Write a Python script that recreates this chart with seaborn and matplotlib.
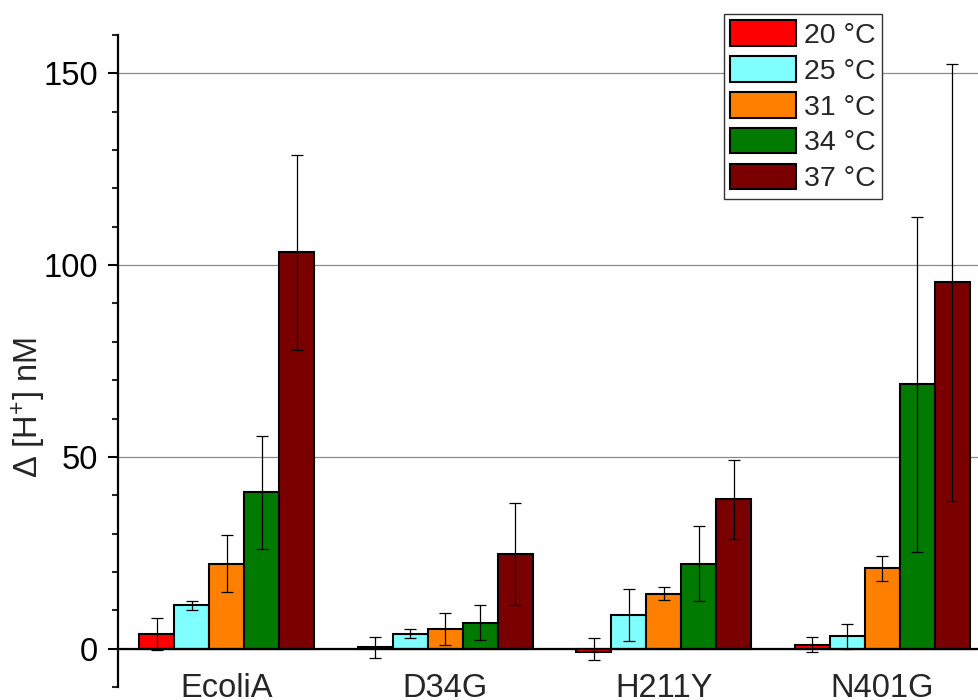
import matplotlib
matplotlib.use("Agg")
import matplotlib.pyplot as plt
import matplotlib.ticker as mticker
import numpy as np
import pandas as pd
import seaborn as sns

# Proton release per enzyme variant at each temperature (mean and error)
groups = ["EcoliA", "D34G", "H211Y", "N401G"]
temps = ["20 °C", "25 °C", "31 °C", "34 °C", "37 °C"]

t20 = [3.8, 0.3, -0.9, 1.0]
t25 = [11.3, 3.9, 8.8, 3.2]
t31 = [22.2, 5.1, 14.3, 20.9]
t34 = [40.8, 6.8, 22.2, 68.9]
t37 = [103.3, 24.7, 39.0, 95.5]

e20 = [4.1, 2.8, 2.9, 2.0]
e25 = [1.2, 1.25, 6.7, 3.2]
e31 = [7.5, 4.2, 1.65, 3.15]
e34 = [14.7, 4.65, 9.9, 43.6]
e37 = [25.5, 13.3, 10.3, 57.0]

colors = ["#FF0000", "#80FFFF", "#FF8000", "#007A00", "#7A0000"]

means = [t20, t25, t31, t34, t37]
errs = [e20, e25, e31, e34, e37]

rows = []
for temp, vals, evals in zip(temps, means, errs):
    for g, v, e in zip(groups, vals, evals):
        rows.append({"group": g, "temp": temp, "value": v, "err": e})
df = pd.DataFrame(rows)

sns.set_style("ticks")
plt.rcParams["font.family"] = ["Liberation Sans", "DejaVu Sans"]
plt.rcParams["mathtext.fontset"] = "custom"
plt.rcParams["mathtext.rm"] = "Liberation Sans"
plt.rcParams["mathtext.it"] = "Liberation Sans:italic"

fig = plt.figure(figsize=(9.79, 7.0), dpi=100)
ax = fig.add_axes([117.5 / 979, 1 - 687 / 700, 874 / 979, 652 / 700])

sns.barplot(
    data=df, x="group", y="value", hue="temp",
    order=groups, hue_order=temps, palette=colors,
    saturation=1, errorbar=None, edgecolor="black", linewidth=1.5,
    width=0.8, ax=ax, zorder=2,
)

# error bars at each bar's centre
for container, evals in zip(ax.containers, errs):
    xs = [b.get_x() + b.get_width() / 2 for b in container]
    hs = [b.get_height() + b.get_y() if b.get_height() >= 0 else b.get_y() for b in container]
    ax.errorbar(xs, hs, yerr=evals, fmt="none", ecolor="black",
                elinewidth=0.9, capsize=4.3, capthick=0.9, zorder=4)

ax.set_xlim(-0.5, 3.5)
ax.set_ylim(-10, 160)

ax.yaxis.set_major_locator(mticker.FixedLocator([0, 50, 100, 150]))
ax.yaxis.set_minor_locator(mticker.MultipleLocator(10))
ax.tick_params(axis="y", which="major", direction="out", length=7.2,
               width=1.5, labelsize=23.5, pad=7, colors="black")
ax.tick_params(axis="y", which="minor", direction="out", length=4.3,
               width=1.5)
ax.tick_params(axis="x", which="both", length=0, labelsize=23.5, pad=17.5)

ax.spines["top"].set_visible(False)
ax.spines["right"].set_visible(False)
ax.spines["left"].set_linewidth(1.6)
ax.spines["left"].set_color("black")
ax.spines["bottom"].set_position(("data", 0))
ax.spines["bottom"].set_linewidth(1.6)
ax.spines["bottom"].set_color("black")
ax.spines["bottom"].set_zorder(5)

ax.set_axisbelow(True)
ax.yaxis.grid(True, which="major", color="#8a8a8a", linewidth=0.9)
ax.xaxis.grid(False)

ax.set_xlabel("")
ax.set_ylabel("Δ [H$^{+}$] nM", fontsize=23.5)
ax.yaxis.set_label_coords(-0.0795, 0.4287)

handles, labels = ax.get_legend_handles_labels()
leg = ax.legend(
    handles, labels, loc="upper left",
    bbox_to_anchor=(724 / 979, 1 - 14 / 700), bbox_transform=fig.transFigure,
    borderaxespad=0, fontsize=20.5, frameon=True, fancybox=False,
    handlelength=2.3, handleheight=1.0, handletextpad=0.29,
    borderpad=0.22, labelspacing=0.26,
)
leg.get_frame().set_edgecolor("#333333")
leg.get_frame().set_linewidth(1.0)
leg.get_frame().set_alpha(1)

fig.savefig("out.png", dpi=100)
